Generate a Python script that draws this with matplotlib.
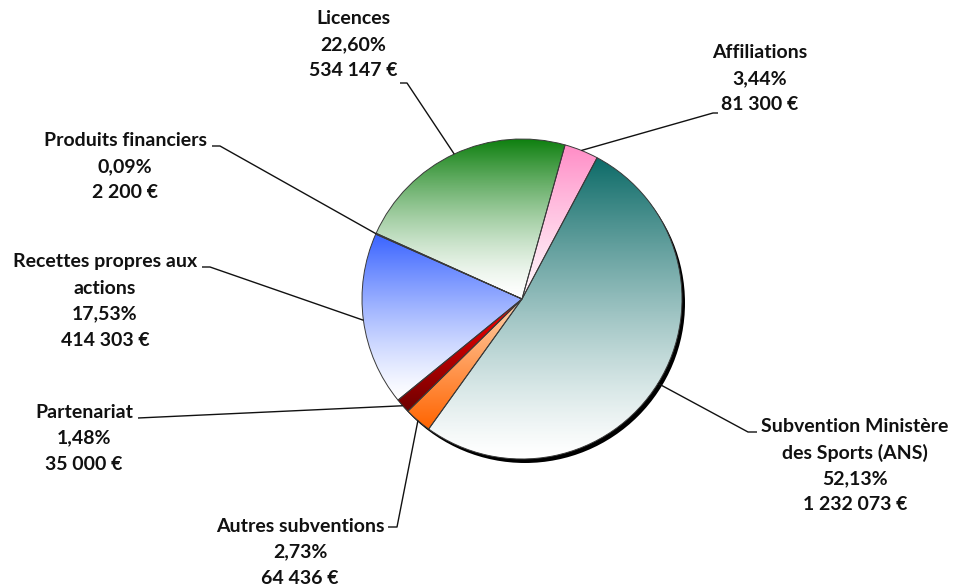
import matplotlib
matplotlib.use("Agg")
import matplotlib.pyplot as plt
import numpy as np
from matplotlib.colors import LinearSegmentedColormap
from matplotlib.patches import Circle

# ---- data ----
categories = ["Subvention Ministère\ndes Sports (ANS)", "Autres subventions", "Partenariat",
              "Recettes propres aux\nactions", "Produits financiers", "Licences", "Affiliations"]
amounts = [1232073, 64436, 35000, 414303, 2200, 534147, 81300]

# ---- style ----
top_colors = ["#0d6b68", "#ffd2ad", "#ff0000", "#3a64ff", "#7030a0", "#0f8010", "#ff8cc6"]
bot_colors = ["#ffffff", "#ff6400", "#6e0000", "#ffffff", "#ffffff", "#ffffff", "#fff6fb"]
gammas = [0.8, 1.0, 1.0, 0.8, 1.0, 0.7, 0.8]

W, H = 955, 584
CX, CY, R = 522, 299, 160  # pixel coords (y from top)

# label layout: (center x, first line y, tick label-side x, tick pie-side x, tick y) in pixels
layout = [
    (855, 427, 757, 748, 432),
    (300, 526, 388, 397, 527),
    (84, 412, 138, 138, 418),
    (105, 262, 202, 210, 267),
    (125, 141, 212, 220, 146),
    (353, 19, 400, 407, 83),
    (760, 53, 718, 713, 113),
]

def fmt_amount(v):
    return f"{v:,}".replace(",", " ") + " €"

total = sum(amounts)

fig = plt.figure(figsize=(W / 100, H / 100), dpi=100)
ax = fig.add_axes([0, 0, 1, 1])

def py(y):
    return H - y

# shadow
ax.add_patch(Circle((CX + 3, py(CY) - 4), R, facecolor="black", edgecolor="none", zorder=0))

wedges, _ = ax.pie(amounts, startangle=62, counterclock=False, center=(CX, py(CY)), radius=R,
                   wedgeprops=dict(edgecolor="#3a3a3a", linewidth=0.7))

for w, ct, cb, g in zip(wedges, top_colors, bot_colors, gammas):
    w.set_facecolor("none")
    w.set_zorder(3)
    ext = w.get_path().get_extents()
    cmap = LinearSegmentedColormap.from_list("g", [cb, ct])
    grad = (np.linspace(0, 1, 256) ** (1 / g)).reshape(-1, 1)
    im = ax.imshow(grad, cmap=cmap, origin="lower", aspect="auto", vmin=0, vmax=1,
                   extent=(ext.x0, ext.x1, ext.y0, ext.y1), zorder=2, interpolation="bilinear")
    im.set_clip_path(w)

fontkw = dict(family=["Lato", "DejaVu Sans"], fontweight="bold", fontsize=14, color="#111111")
for w, cat, amt, (lx, ly, tl, tp, ty) in zip(wedges, categories, amounts, layout):
    lines = cat.split("\n") + [f"{amt / total * 100:.2f}%".replace(".", ","), fmt_amount(amt)]
    for i, line in enumerate(lines):
        ax.text(lx, py(ly + 26 * i), line, ha="center", va="center", zorder=5, **fontkw)
    mid = np.deg2rad((w.theta1 + w.theta2) / 2)
    ex, ey = CX + R * np.cos(mid), py(CY) + R * np.sin(mid)
    ax.plot([tl, tp, ex], [py(ty), py(ty), ey], color="#111111", lw=1.0, zorder=4,
            solid_capstyle="butt")

ax.set_xlim(0, W)
ax.set_ylim(0, H)
ax.set_aspect("equal")
ax.axis("off")
fig.savefig("out.png", dpi=100)
